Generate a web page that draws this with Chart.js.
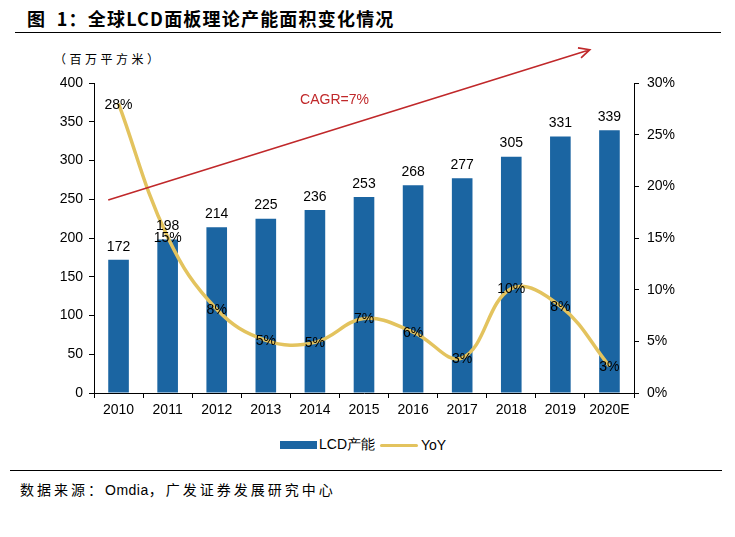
<!DOCTYPE html>
<html>
<head>
<meta charset="utf-8">
<script src="https://cdn.jsdelivr.net/npm/chart.js@4.4.1/dist/chart.umd.min.js"></script>
<style>
  body { margin: 0; background: #fff; }
  #page { position: relative; width: 735px; height: 537px; overflow: hidden; font-family: "Liberation Sans", Arial, sans-serif; }
  #title { position: absolute; left: 27px; top: 5px; font: bold 18px "Noto Sans CJK SC", sans-serif; color: #000; letter-spacing: 1.2px; white-space: pre; }
  #rule1 { position: absolute; left: 15px; top: 32px; width: 706px; height: 1px; background: #000; }
  #unit { position: absolute; left: 54px; top: 50px; font: 12px "Noto Sans CJK SC", sans-serif; letter-spacing: 3.5px; color: #000; }
  #chartBox { position: absolute; left: 0; top: 36px; width: 735px; height: 394px; }
  #legend { position: absolute; top: 436px; left: 280px; font-size: 14px; color: #000; display: flex; align-items: center; }
  #legend .sw { display: inline-block; width: 37px; height: 8px; background: #1b65a2; margin-right: 2px; }
  #legend .ln { display: inline-block; width: 38px; height: 3px; border-radius: 2px; background: #e3c35e; margin: 0 3px 0 5px; }
  #rule2 { position: absolute; left: 10px; top: 470px; width: 712px; height: 1px; background: #000; }
  #source { position: absolute; left: 20px; top: 479px; font: 14px "Noto Sans CJK SC", sans-serif; color: #000; letter-spacing: 3px; }
  #source .en { font-family: "Liberation Sans", Arial, sans-serif; letter-spacing: 0.5px; }
</style>
</head>
<body>
<div id="page">
  <div id="title">图  1：全球LCD面板理论产能面积变化情况</div>
  <div id="rule1"></div>
  <div id="unit">（百万平方米）</div>
  <div id="chartBox"><canvas id="myChart"></canvas></div>
  <div id="legend"><span class="sw"></span>LCD产能<span class="ln"></span>YoY</div>
  <div id="rule2"></div>
  <div id="source">数据来源：<span class="en">Omdia</span>，广发证券发展研究中心</div>
</div>
<script>
// Data
const years = ['2010', '2011', '2012', '2013', '2014', '2015', '2016', '2017', '2018', '2019', '2020E'];
const capacity = [172, 198, 214, 225, 236, 253, 268, 277, 305, 331, 339];
const yoy = [28, 15.1, 8.1, 5.1, 4.9, 7.2, 5.9, 3.4, 10.1, 8.4, 2.6];
const leftTicks = [0, 50, 100, 150, 200, 250, 300, 350, 400];
const rightTicks = [0, 5, 10, 15, 20, 25, 30];

const BLUE = '#1b65a2';
const GOLD = '#e3c35e';
const RED = '#c0282a';
const FONT = "'Liberation Sans', Arial, sans-serif";

// value labels + CAGR arrow
const labelPlugin = {
    id: 'labels',
    afterDatasetsDraw(chart) {
        const ctx = chart.ctx;
        const x = chart.scales.x, yl = chart.scales.y;
        ctx.save();
        ctx.font = '14px ' + FONT;
        ctx.fillStyle = '#000';
        ctx.textAlign = 'center';
        ctx.textBaseline = 'bottom';
        chart.getDatasetMeta(1).data.forEach((bar, i) => {
            ctx.fillText(capacity[i], bar.x, bar.y - 6);
        });
        ctx.textBaseline = 'middle';
        chart.getDatasetMeta(0).data.forEach((pt, i) => {
            ctx.fillText(Math.round(yoy[i]) + '%', pt.x, pt.y + 1);
        });

        // CAGR arrow, placed in data units
        const x0 = x.getPixelForValue(-0.21), y0 = yl.getPixelForValue(249);
        const x1 = x.getPixelForValue(9.6), y1 = yl.getPixelForValue(443);
        ctx.strokeStyle = RED;
        ctx.lineWidth = 1.6;
        ctx.beginPath();
        ctx.moveTo(x0, y0);
        ctx.lineTo(x1, y1);
        const a = Math.atan2(y1 - y0, x1 - x0);
        ctx.moveTo(x1 - 12 * Math.cos(a - 0.45), y1 - 12 * Math.sin(a - 0.45));
        ctx.lineTo(x1, y1);
        ctx.lineTo(x1 - 12 * Math.cos(a + 0.45), y1 - 12 * Math.sin(a + 0.45));
        ctx.stroke();
        ctx.fillStyle = RED;
        ctx.fillText('CAGR=7%', x.getPixelForValue(4.4), yl.getPixelForValue(378));
        ctx.restore();
    }
};

const ctx = document.getElementById('myChart').getContext('2d');
new Chart(ctx, {
    data: {
        labels: years,
        datasets: [
            {
                type: 'line',
                label: 'YoY',
                data: yoy,
                yAxisID: 'y1',
                borderColor: GOLD,
                borderWidth: 3.5,
                pointRadius: 0,
                tension: 0.4,
                order: 0
            },
            {
                type: 'bar',
                label: 'LCD产能',
                data: capacity,
                yAxisID: 'y',
                backgroundColor: BLUE,
                barPercentage: 0.42,
                categoryPercentage: 1,
                order: 1
            }
        ]
    },
    options: {
        responsive: true,
        maintainAspectRatio: false,
        animation: false,
        layout: { padding: { top: 47, bottom: 7, left: 0, right: 0 } },
        plugins: { legend: { display: false }, tooltip: { enabled: false } },
        scales: {
            x: {
                offset: true,
                grid: { display: true, drawOnChartArea: false, offset: true, color: '#000', tickLength: 5 },
                border: { color: '#000', width: 1 },
                ticks: { color: '#000', font: { family: FONT, size: 14 }, padding: 4, maxRotation: 0, autoSkip: false },
                afterFit: s => { s.height = 30; }
            },
            y: {
                position: 'left',
                min: 0, max: 400,
                afterBuildTicks: s => { s.ticks = leftTicks.map(v => ({ value: v })); },
                grid: { drawOnChartArea: false, color: '#000', tickLength: 5 },
                border: { color: '#000', width: 1 },
                ticks: { color: '#000', font: { family: FONT, size: 14 }, padding: 6 },
                afterFit: s => { s.width = 94; }
            },
            y1: {
                position: 'right',
                min: 0, max: 30,
                afterBuildTicks: s => { s.ticks = rightTicks.map(v => ({ value: v })); },
                grid: { drawOnChartArea: false, color: '#000', tickLength: 5 },
                border: { color: '#000', width: 1 },
                ticks: { color: '#000', font: { family: FONT, size: 14 }, padding: 8, callback: v => v + '%' },
                afterFit: s => { s.width = 101; }
            }
        }
    },
    plugins: [labelPlugin]
});
</script>
</body>
</html>
